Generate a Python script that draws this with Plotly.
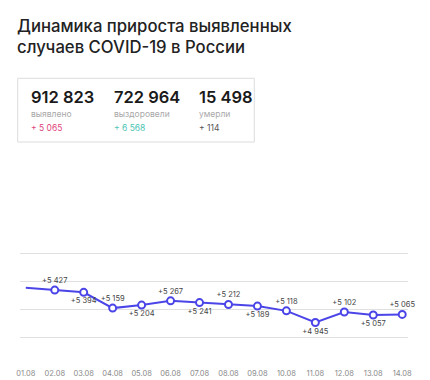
import plotly.graph_objects as go

# ---- data ----
dates = ["01.08", "02.08", "03.08", "04.08", "05.08", "06.08", "07.08",
         "08.08", "09.08", "10.08", "11.08", "12.08", "13.08", "14.08"]
new_cases = [5462, 5427, 5394, 5159, 5204, 5267, 5241,
             5212, 5189, 5118, 4945, 5102, 5057, 5065]
label_pos = ["", "top", "bottom", "top", "bottom", "top", "bottom",
             "top", "bottom", "top", "bottom", "top", "bottom", "top"]

title_lines = ["Динамика прироста выявленных", "случаев COVID-19 в России"]
stat_totals = ["912 823", "722 964", "15 498"]
stat_names = ["выявлено", "выздоровели", "умерли"]
stat_deltas = ["+ 5 065", "+ 6 568", "+ 114"]
stat_colors = ["#e0457b", "#4cc4b4", "#555555"]

W, H = 430, 380
OFF = 8  # page body margin offset
PX0, PX1, PY0, PY1 = 20, 408, 225, 365
L = PX0 - OFF
R = W - (PX1 - OFF)
T = PY0 - OFF
B = H - (PY1 - OFF)
PW, PH = W - L - R, H - T - B

def px(x):
    return (x - OFF - L) / PW

def py(y):
    return (H - B - (y - OFF)) / PH

def fmt(v):
    s = f"{v:,}".replace(",", " ")
    return "+" + s

FONT = "Inter"
BLUE = "#4b45e8"

fig = go.Figure()

fig.add_trace(go.Scatter(
    x=dates, y=new_cases, mode="lines",
    line=dict(color=BLUE, width=2), hoverinfo="skip", showlegend=False))

for pos in ["top", "bottom"]:
    xs = [d for d, p in zip(dates, label_pos) if p == pos]
    ys = [v for v, p in zip(new_cases, label_pos) if p == pos]
    fig.add_trace(go.Scatter(
        x=xs, y=ys, mode="markers+text",
        marker=dict(size=7, color="white", line=dict(color=BLUE, width=2)),
        text=[fmt(v) for v in ys], textposition=pos + " center",
        textfont=dict(family=FONT, size=7.5, color="#444444"),
        hoverinfo="skip", showlegend=False, cliponaxis=False))

y_bottom, y_top = 4313, 6395
dt = (y_top - y_bottom) / 5
grid_vals = [y_bottom + k * dt for k in range(6)]

fig.update_layout(
    width=W, height=H,
    margin=dict(l=L, r=R, t=T, b=B, autoexpand=False),
    paper_bgcolor="white", plot_bgcolor="rgba(0,0,0,0)",
    xaxis=dict(type="category", range=[-0.2, len(dates) - 0.8],
               showgrid=False, zeroline=False, showline=False,
               tickfont=dict(family=FONT, size=7.5, color="#8a8a8a"),
               ticklabelstandoff=2, automargin=False, fixedrange=True),
    yaxis=dict(range=[y_bottom, y_top], tickmode="array",
               tickvals=grid_vals,
               showgrid=True, gridcolor="#e0e0e0", gridwidth=1,
               zeroline=False, showticklabels=False, automargin=False,
               fixedrange=True),
)

annotations = []
for i, line in enumerate(title_lines):
    annotations.append(dict(
        text=line, xref="paper", yref="paper",
        x=px(15), y=py(26 + i * 21), xanchor="left", yanchor="middle",
        showarrow=False,
        font=dict(family=FONT, size=16.7, color="#222222", weight=500)))

fig.add_shape(type="rect", xref="paper", yref="paper",
              x0=px(17.7), x1=px(254.3), y0=py(142), y1=py(78.3),
              line=dict(color="#dcdcdc", width=1), fillcolor="white")

col_x = [28.5, 111.5, 196.5]
for i in range(3):
    annotations.append(dict(
        text=stat_totals[i], xref="paper", yref="paper",
        x=px(col_x[i]), y=py(97.5), xanchor="left", yanchor="middle",
        showarrow=False,
        font=dict(family=FONT, size=16.5, color="#1a1a1a", weight=600)))
    annotations.append(dict(
        text=stat_names[i], xref="paper", yref="paper",
        x=px(col_x[i] + 0.5), y=py(114), xanchor="left", yanchor="middle",
        showarrow=False,
        font=dict(family=FONT, size=8.5, color="#a8a8a8")))
    annotations.append(dict(
        text=stat_deltas[i], xref="paper", yref="paper",
        x=px(col_x[i] + 0.5), y=py(128.3), xanchor="left", yanchor="middle",
        showarrow=False,
        font=dict(family=FONT, size=8.5, color=stat_colors[i])))

fig.update_layout(annotations=annotations)

fig.write_html("out.html")
